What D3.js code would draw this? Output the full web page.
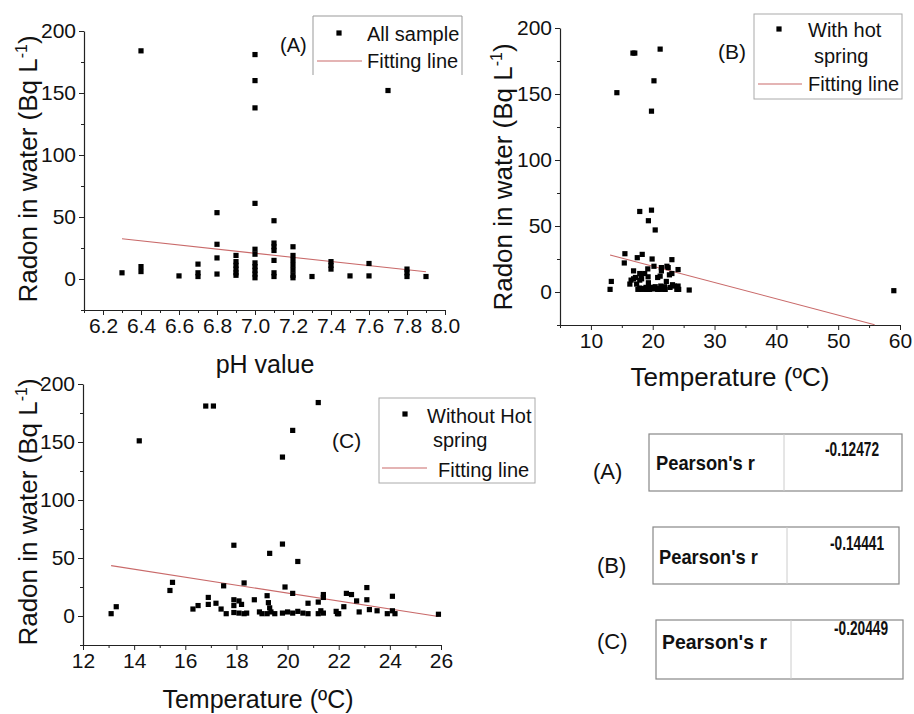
<!DOCTYPE html>
<html>
<head>
<meta charset="utf-8">
<script src="https://cdn.jsdelivr.net/npm/d3@7"></script>
<style>
  body { margin: 0; background: #fff; }
  svg { display: block; }
  text { font-family: "Liberation Sans", Arial, sans-serif; fill: #111; }
</style>
</head>
<body>
<svg id="fig" width="914" height="714"></svg>
<script>
// ---- (A) radon vs pH, all samples ----
const phValues = [6.3, 6.4, 6.4, 6.4, 6.6, 6.7, 6.7, 6.7, 6.8, 6.8, 6.8, 6.8,
  6.9, 6.9, 6.9, 6.9, 6.9, 6.9,
  7.0, 7.0, 7.0, 7.0, 7.0, 7.0, 7.0, 7.0, 7.0, 7.0, 7.0,
  7.1, 7.1, 7.1, 7.1, 7.1, 7.1, 7.1,
  7.2, 7.2, 7.2, 7.2, 7.2, 7.2, 7.2,
  7.3, 7.4, 7.4, 7.4, 7.5, 7.6, 7.6, 7.7, 7.8, 7.8, 7.8, 7.9];
const radonByPh = [5, 184, 10, 6, 2.5, 12, 5, 2, 53.5, 28, 17, 4,
  19, 14, 11, 8, 5, 3,
  181, 160, 138, 61, 24, 20, 13, 10, 7, 4, 1,
  47, 29, 26, 23, 15, 5, 2,
  26, 19, 15, 11, 7, 3, 1,
  2, 14, 11, 8, 2.5, 12.5, 2.5, 152, 8, 5, 2, 2];
const fitPhX = [6.3, 7.9];
const fitPhY = [32.4, 5.8];

// ---- (C) radon vs temperature, samples without hot spring ----
const tempNoHot = [13.1, 13.3, 14.2, 15.4, 15.5, 16.8, 17.1, 16.3, 16.5, 16.9,
  16.9, 17.2, 17.4, 17.5, 17.6, 17.9, 17.9, 17.9, 17.9, 18.1,
  18.2, 18.1, 18.3, 18.4, 18.3, 18.7, 18.9, 19.2, 19.25, 19.3,
  19.35, 19.0, 19.2, 19.5, 19.3, 19.8, 19.8, 19.9, 20.2, 20.2,
  20.4, 19.8, 20.0, 20.2, 20.4, 20.6, 20.8, 20.8, 21.2, 21.2,
  21.2, 21.3, 21.4, 21.4, 21.4, 21.9, 21.95, 22.0, 22.2, 22.3,
  22.5, 22.7, 22.8, 23.1, 23.1, 23.2, 23.5, 23.9, 24.1, 24.1,
  24.2, 25.9];
const radonNoHot = [2, 8, 151, 22, 29, 181, 181, 6, 9, 16,
  10, 11, 6, 26, 2, 61, 14, 9, 3, 13,
  10, 2.5, 2, 2.5, 28.5, 14, 3.5, 17.5, 11.5, 7,
  3.5, 2, 2, 2, 54, 137, 62, 25, 160, 19.5,
  47, 2.5, 3.5, 2.5, 4, 2.5, 2, 11, 184, 12,
  2, 4.5, 2.5, 18.5, 16, 4, 2, 2, 8, 19.5,
  18.5, 13, 3.5, 24.5, 14, 5.5, 4.5, 2, 17, 4.5,
  2, 1.5];
const fitNoHotX = [13.1, 25.9];
const fitNoHotY = [43.4, -0.5];

// ---- (B) the same samples together with the hot spring ----
const tempHotSpring = [59];
const radonHotSpring = [1];
const tempWithHot = tempNoHot.concat(tempHotSpring);
const radonWithHot = radonNoHot.concat(radonHotSpring);
const fitWithHotX = [13.1, 55.9];
const fitWithHotY = [28.1, -24.8];

// ---- axis ticks ----
const radonTicks = [0, 50, 100, 150, 200];
const phTicks = [6.2, 6.4, 6.6, 6.8, 7.0, 7.2, 7.4, 7.6, 7.8, 8.0];
const tempTicksB = [10, 20, 30, 40, 50, 60];
const tempTicksC = [12, 14, 16, 18, 20, 22, 24, 26];

// ---- correlation tables ----
const panelTags = ["(A)", "(B)", "(C)"];
const pearsonR = [-0.12472, -0.14441, -0.20449];

const svg = d3.select("#fig");
const FONT = '"Liberation Sans", Arial, sans-serif';
const FIT_COLOR = "#c96a6a";

function styleAxis(sel, size) {
  sel.attr("font-family", FONT).attr("font-size", size);
  sel.selectAll("path.domain").attr("stroke", "#222").attr("stroke-width", 1.2);
  sel.selectAll(".tick line").attr("stroke", "#222").attr("stroke-width", 1);
  sel.selectAll(".tick text").attr("fill", "#111");
}

function scatterPanel(o) {
  const x = d3.scaleLinear().domain(o.xDomain).range(o.xRange);
  const y = d3.scaleLinear().domain([-25, 200]).range(o.yRange);
  const g = svg.append("g");
  const y0 = o.yRange[0], x0 = o.xRange[0];

  // minor ticks
  g.append("g").attr("transform", `translate(0,${y0})`)
    .call(d3.axisBottom(x).tickValues(o.xMinor).tickSize(3).tickFormat("").tickSizeOuter(0))
    .call(s => { s.select(".domain").remove(); styleAxis(s, 21); });
  g.append("g").attr("transform", `translate(${x0},0)`)
    .call(d3.axisLeft(y).tickValues(d3.range(-25, 200, 50)).tickSize(3).tickFormat("").tickSizeOuter(0))
    .call(s => { s.select(".domain").remove(); styleAxis(s, 21); });

  // major ticks and labels
  g.append("g").attr("transform", `translate(0,${y0})`)
    .call(d3.axisBottom(x).tickValues(o.xTicks).tickSize(5).tickPadding(3)
      .tickFormat(o.xFormat).tickSizeOuter(0))
    .call(s => styleAxis(s, 21));
  g.append("g").attr("transform", `translate(${x0},0)`)
    .call(d3.axisLeft(y).tickValues(radonTicks).tickSize(5).tickPadding(3).tickSizeOuter(0))
    .call(s => styleAxis(s, 21));

  // fitted regression line
  g.append("line")
    .attr("x1", x(o.fitX[0])).attr("y1", y(o.fitY[0]))
    .attr("x2", x(o.fitX[1])).attr("y2", y(o.fitY[1]))
    .attr("stroke", FIT_COLOR).attr("stroke-width", 1.1);

  // samples
  g.selectAll("rect.pt").data(d3.zip(o.xs, o.ys)).join("rect")
    .attr("class", "pt")
    .attr("x", d => x(d[0]) - 2.6).attr("y", d => y(d[1]) - 2.6)
    .attr("width", 5.2).attr("height", 5.2).attr("fill", "#000");

  // axis titles
  const yt = g.append("text")
    .attr("transform", `translate(${o.yTitle[0]},${o.yTitle[1]}) rotate(-90)`)
    .attr("text-anchor", "middle").attr("font-size", 26);
  yt.append("tspan").text("Radon in water (Bq L");
  yt.append("tspan").attr("dy", -10).attr("font-size", 16).text("-1");
  yt.append("tspan").attr("dy", 10).text(")");

  g.append("text").attr("x", o.xTitle[0]).attr("y", o.xTitle[1])
    .attr("text-anchor", "middle").attr("font-size", o.xTitleSize).text(o.xLabel);
  return g;
}

// (A)
scatterPanel({
  xDomain: [6.1, 8.0], xRange: [84, 445], yRange: [310, 31],
  xTicks: phTicks, xMinor: d3.range(6.1, 8.0, 0.2), xFormat: d3.format(".1f"),
  xs: phValues, ys: radonByPh, fitX: fitPhX, fitY: fitPhY,
  yTitle: [37, 169], xTitle: [265, 373], xTitleSize: 25, xLabel: "pH value"
});
// (B)
scatterPanel({
  xDomain: [5, 60], xRange: [560, 900], yRange: [325, 28],
  xTicks: tempTicksB, xMinor: d3.range(5, 60, 10), xFormat: d3.format("d"),
  xs: tempWithHot, ys: radonWithHot, fitX: fitWithHotX, fitY: fitWithHotY,
  yTitle: [512, 177], xTitle: [730, 386], xTitleSize: 26, xLabel: "Temperature (ºC)"
});
// (C)
scatterPanel({
  xDomain: [12, 26], xRange: [83, 441], yRange: [645, 384],
  xTicks: tempTicksC, xMinor: d3.range(13, 26, 2), xFormat: d3.format("d"),
  xs: tempNoHot, ys: radonNoHot, fitX: fitNoHotX, fitY: fitNoHotY,
  yTitle: [37, 512], xTitle: [258, 708], xTitleSize: 25, xLabel: "Temperature (ºC)"
});

// ---- legends and panel tags ----
function txt(x, y, s, size, extra) {
  const t = svg.append("text").attr("x", x).attr("y", y).attr("font-size", size).text(s);
  if (extra) extra(t);
  return t;
}
function marker(cx, cy) {
  svg.append("rect").attr("x", cx - 2.6).attr("y", cy - 2.6)
    .attr("width", 5.2).attr("height", 5.2).attr("fill", "#000");
}
function fitKey(x1, x2, yy) {
  svg.append("line").attr("x1", x1).attr("x2", x2).attr("y1", yy).attr("y2", yy)
    .attr("stroke", FIT_COLOR).attr("stroke-width", 1.1);
}

// legend A (open at the bottom)
svg.append("path").attr("d", "M313,75V16H462V75").attr("fill", "none")
  .attr("stroke", "#999").attr("stroke-width", 1);
marker(339, 33);
txt(367, 41, "All sample", 20);
fitKey(317, 362, 61);
txt(367, 68, "Fitting line", 20);
txt(280, 52, panelTags[0], 20);

// legend B
svg.append("rect").attr("x", 754).attr("y", 14).attr("width", 148).attr("height", 85)
  .attr("fill", "#fff").attr("stroke", "#aaa");
marker(779, 29);
txt(808, 37, "With hot", 20);
txt(814, 63, "spring", 20);
fitKey(758, 802, 84);
txt(808, 91, "Fitting line", 20);
txt(718, 59, panelTags[1], 21);

// legend C
svg.append("rect").attr("x", 379).attr("y", 398).attr("width", 156).attr("height", 85)
  .attr("fill", "#fff").attr("stroke", "#aaa");
marker(405, 414);
txt(427, 423, "Without Hot", 20);
txt(433, 447, "spring", 20);
fitKey(382, 427, 468);
txt(438, 477, "Fitting line", 20);
txt(332, 448, panelTags[2], 21);

// ---- Pearson's r tables ----
const tables = [
  { x: 649, y: 434, w: 253, h: 57, div: 784, tag: [593, 479], lab: [656, 470, 99], val: [825, 456, 54] },
  { x: 653, y: 527, w: 246, h: 57, div: 787, tag: [597, 573], lab: [659, 564, 99], val: [830, 549.5, 54] },
  { x: 656, y: 620, w: 247, h: 59, div: 791, tag: [597, 649], lab: [662, 649, 105], val: [834, 634.5, 54] }
];
tables.forEach((t, i) => {
  svg.append("rect").attr("x", t.x).attr("y", t.y).attr("width", t.w).attr("height", t.h)
    .attr("fill", "#fff").attr("stroke", "#888").attr("stroke-width", 1.2);
  svg.append("line").attr("x1", t.div).attr("x2", t.div).attr("y1", t.y).attr("y2", t.y + t.h)
    .attr("stroke", "#ccc");
  txt(t.tag[0], t.tag[1], panelTags[i], 22);
  txt(t.lab[0], t.lab[1], "Pearson's r", 21, s => s.attr("font-weight", "bold")
    .attr("textLength", t.lab[2]).attr("lengthAdjust", "spacingAndGlyphs"));
  txt(t.val[0], t.val[1], pearsonR[i].toFixed(5), 19.5, s => s.attr("font-weight", "bold")
    .attr("textLength", t.val[2]).attr("lengthAdjust", "spacingAndGlyphs"));
});
</script>
</body>
</html>
